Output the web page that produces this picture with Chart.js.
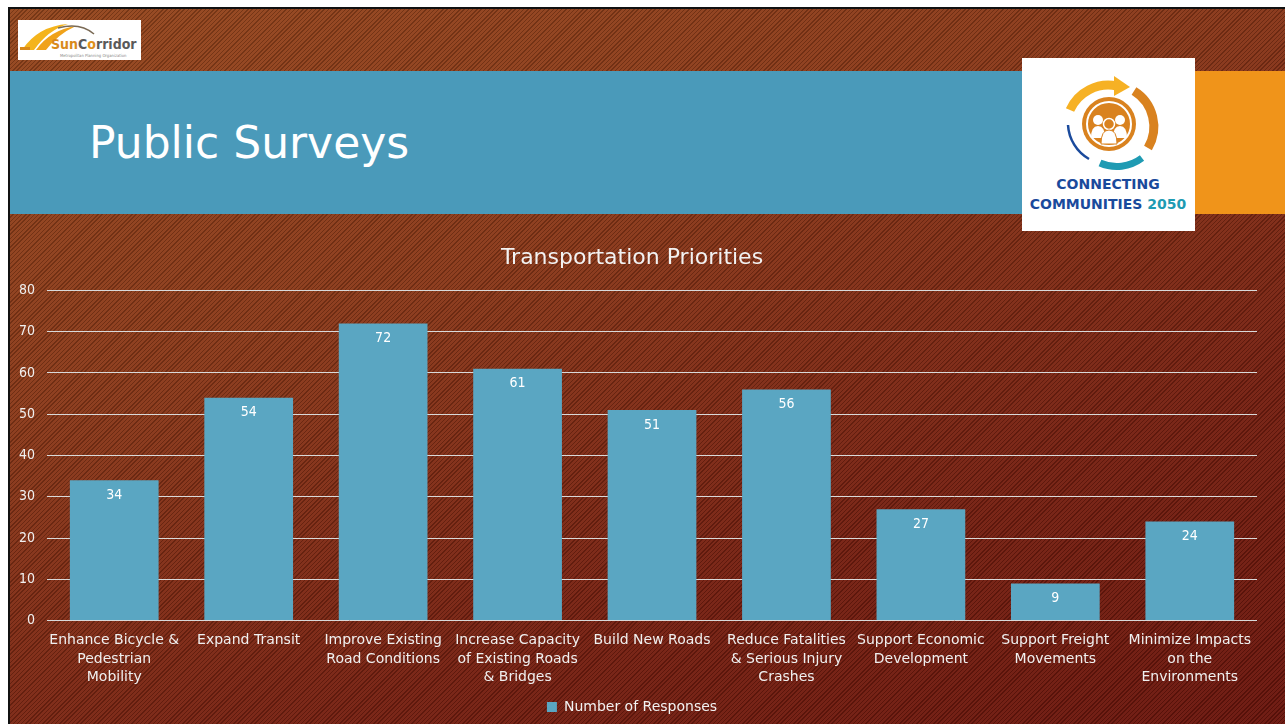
<!DOCTYPE html>
<html>
<head>
<meta charset="utf-8">
<script src="https://cdn.jsdelivr.net/npm/chart.js@4.4.1/dist/chart.umd.min.js"></script>
<style>
  html, body { margin: 0; padding: 0; }
  body { width: 1285px; height: 724px; overflow: hidden; background: #fff; position: relative;
         font-family: "DejaVu Sans", sans-serif; }
  #slide { position: absolute; left: 8px; top: 7px; width: 1277px; height: 717px;
           border-left: 2px solid #111; border-top: 2px solid #111;
           background:
             repeating-linear-gradient(135deg, rgba(0,0,0,0.2) 0px, rgba(0,0,0,0.2) 1px, rgba(255,255,255,0.04) 1px, rgba(255,255,255,0.04) 3px),
             linear-gradient(160deg, #95461c 0%, #8a3818 35%, #761f10 70%, #6a140b 100%); }
  #banner { position: absolute; left: 10px; top: 71px; width: 1012px; height: 143px; background: #4a9aba; }
  #orange { position: absolute; left: 1195px; top: 71px; width: 90px; height: 143px; background: #f0941a; }
  #title { position: absolute; left: 89px; top: 113px; color: #fff; font-size: 44px; line-height: 60px; }
  #logoL { position: absolute; left: 18px; top: 20px; width: 123px; height: 40px; background: #fff; }
  #logoR { position: absolute; left: 1022px; top: 58px; width: 173px; height: 173px; background: #fff; }
  #chartBox { position: absolute; left: 10px; top: 232px; width: 1275px; height: 492px; }
</style>
</head>
<body>
<div id="slide"></div>
<div id="banner"></div>
<div id="orange"></div>
<div id="title">Public Surveys</div>
<div id="logoL">
  <svg width="123" height="40" viewBox="0 0 123 40">
    <path d="M4 30 Q20 6 50 4 Q30 10 16 30 Z" fill="#f4b41c"/>
    <path d="M18 30 Q32 10 58 6 Q40 14 28 30 Z" fill="#f0a21a"/>
    <path d="M40 8 Q62 2 76 14" stroke="#7a6a55" stroke-width="1.5" fill="none"/>
    <rect x="2" y="27" width="10" height="3" fill="#d98a1a"/>
    <text x="33" y="29" font-family="DejaVu Sans Condensed, DejaVu Sans" font-weight="bold" font-size="14" fill="#d98a1a">Sun<tspan fill="#5a5a5a">C</tspan><tspan fill="#e0901a">o</tspan><tspan fill="#5a5a5a">rridor</tspan></text>
    <text x="42" y="37" font-family="DejaVu Sans Condensed, DejaVu Sans" font-size="4.2" fill="#888">Metropolitan Planning Organization</text>
  </svg>
</div>
<div id="logoR">
  <svg width="173" height="173" viewBox="0 0 173 173">
    <path d="M48 52 A42 42 0 0 1 95 28" stroke="#f6b124" stroke-width="9" fill="none"/>
    <polygon points="92,18 108,29 92,38" fill="#f6b124"/>
    <path d="M112 33 A42 42 0 0 1 126 90" stroke="#d9821f" stroke-width="9" fill="none"/>
    <path d="M120 100 A42 42 0 0 1 78 105" stroke="#1f9bb3" stroke-width="7" fill="none"/>
    <path d="M67 101 A42 42 0 0 1 46 67" stroke="#1a4a9c" stroke-width="2.5" fill="none"/>
    <circle cx="87" cy="66" r="27" fill="#d9821f"/>
    <circle cx="87" cy="66" r="22" fill="none" stroke="#fff" stroke-width="2"/>
    <circle cx="76" cy="62" r="5" fill="#fff"/><circle cx="98" cy="62" r="5" fill="#fff"/>
    <circle cx="87" cy="66" r="5.5" fill="#d9821f" stroke="#fff" stroke-width="1.5"/>
    <path d="M69 80 Q69 68 76 68 Q83 68 83 80 Z" fill="#fff"/>
    <path d="M91 80 Q91 68 98 68 Q105 68 105 80 Z" fill="#fff"/>
    <path d="M79 86 Q79 72 87 72 Q95 72 95 86 Z" fill="#fff" stroke="#d9821f" stroke-width="1"/>
    <text x="86" y="131" text-anchor="middle" font-family="DejaVu Sans" font-weight="bold" font-size="14" fill="#1a4a9c">CONNECTING</text>
    <text x="86" y="151" text-anchor="middle" font-family="DejaVu Sans" font-weight="bold" font-size="14" fill="#1a4a9c">COMMUNITIES <tspan fill="#1f9bb3">2050</tspan></text>
  </svg>
</div>
<div id="chartBox"><canvas id="chart"></canvas></div>
<script>
const categories = [
  ['Enhance Bicycle &', 'Pedestrian', 'Mobility'],
  'Expand Transit',
  ['Improve Existing', 'Road Conditions'],
  ['Increase Capacity', 'of Existing Roads', '& Bridges'],
  'Build New Roads',
  ['Reduce Fatalities', '& Serious Injury', 'Crashes'],
  ['Support Economic', 'Development'],
  ['Support Freight', 'Movements'],
  ['Minimize Impacts', 'on the', 'Environments']
]
const responses = [34, 54, 72, 61, 51, 56, 27, 9, 24]
const yTicks = [0, 10, 20, 30, 40, 50, 60, 70, 80]

const fontFam = '"DejaVu Sans", sans-serif'
const numFam = '"DejaVu Sans Condensed", "DejaVu Sans", sans-serif'

// writes the value inside each bar, near its top
const barValues = {
  id: 'barValues',
  afterDatasetsDraw(chart) {
    const c = chart.ctx
    c.save()
    c.fillStyle = '#ffffff'
    c.font = '14px ' + numFam
    c.textAlign = 'center'
    c.textBaseline = 'middle'
    chart.getDatasetMeta(0).data.forEach((bar, i) => {
      c.fillText(responses[i], bar.x, bar.y + 15)
    })
    c.restore()
  }
}

new Chart(document.getElementById('chart'), {
  type: 'bar',
  data: {
    labels: categories,
    datasets: [{
      label: 'Number of Responses',
      data: responses,
      backgroundColor: '#5aa6c2',
      categoryPercentage: 1,
      barPercentage: 0.66
    }]
  },
  options: {
    responsive: true,
    maintainAspectRatio: false,
    animation: false,
    layout: { padding: { left: -3, right: 28, top: 0, bottom: 0 } },
    plugins: {
      title: {
        display: true,
        text: 'Transportation Priorities',
        color: '#f2f2f2',
        font: { family: fontFam, size: 22, weight: 'normal' },
        padding: { top: 13, bottom: 19 }
      },
      legend: {
        position: 'bottom',
        labels: {
          color: '#f2f2f2',
          font: { family: fontFam, size: 14 },
          boxWidth: 10,
          boxHeight: 10,
          padding: 10
        }
      },
      tooltip: { enabled: false }
    },
    scales: {
      x: {
        grid: { display: false },
        border: { display: false },
        ticks: {
          color: '#f0f0f0',
          font: { family: fontFam, size: 14, lineHeight: 1.32 },
          maxRotation: 0,
          autoSkip: false,
          padding: 3
        }
      },
      y: {
        min: 0,
        max: 80,
        afterBuildTicks(scale) { scale.ticks = yTicks.map(v => ({ value: v })) },
        grid: { color: '#d9d9d9', lineWidth: 1, drawTicks: false },
        border: { display: false },
        ticks: {
          color: '#f0f0f0',
          font: { family: numFam, size: 14 },
          padding: 12
        }
      }
    }
  },
  plugins: [barValues]
})
</script>
</body>
</html>
